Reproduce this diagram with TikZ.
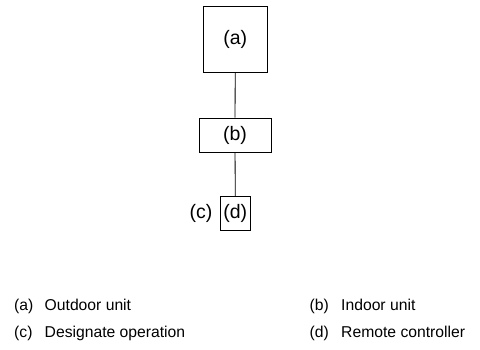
\documentclass[tikz,border=0pt]{standalone}
\usepackage{fontspec}
\setmainfont{Liberation Sans}
\begin{document}
\begin{tikzpicture}[x=1pt,y=1pt,
  unitbox/.style={draw,line width=0.8pt,inner sep=0pt,font=\fontsize{19.5}{22}\selectfont},
  biglabel/.style={inner sep=0pt,font=\fontsize{19.5}{22}\selectfont},
  legend/.style={inner sep=0pt,anchor=base west,font=\fontsize{15.7}{18}\selectfont}]
\useasboundingbox (0,0) rectangle (480,350);
\node[unitbox,minimum width=64pt,minimum height=66pt] (a) at (235.3,310.3) {(a)};
\node[unitbox,minimum width=72pt,minimum height=34pt] (b) at (235,215) {(b)};
\node[unitbox,minimum width=30.5pt,minimum height=34pt] (d) at (235.3,136.3) {(d)};
\node[biglabel,anchor=east] (c) at (212.5,136.3) {(c)};
\draw[line width=0.8pt] (a) -- (b);
\draw[line width=0.8pt] (b) -- (d);
\node[legend] (la) at (14,39.3) {(a)};
\node[legend] (ta) at (44.5,39.3) {Outdoor unit};
\node[legend] (lb) at (309.5,39.3) {(b)};
\node[legend] (tb) at (341,39.3) {Indoor unit};
\node[legend] (lc) at (14,12) {(c)};
\node[legend] (tc) at (44.5,12) {Designate operation};
\node[legend] (ld) at (309.5,12) {(d)};
\node[legend] (td) at (341,12) {Remote controller};
\end{tikzpicture}
\end{document}
